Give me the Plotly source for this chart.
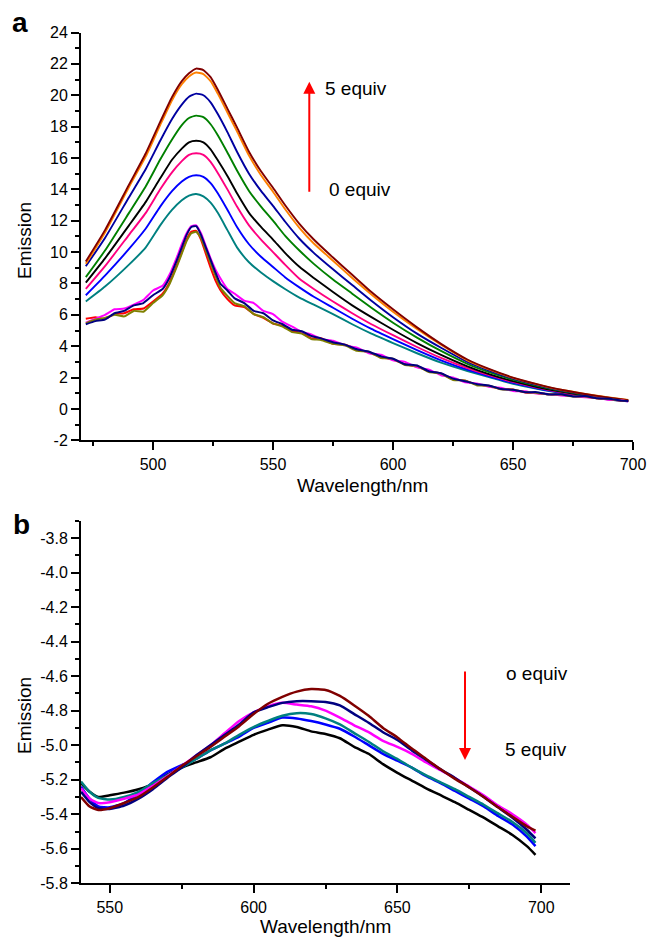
import plotly.graph_objects as go
import numpy as np

W, H = 649, 937

# ---------------- Panel a data ----------------
wl_a = [472, 480, 490, 497, 503, 508, 512, 515, 518, 521, 524, 527, 531, 535, 540, 545, 550, 555,
        561, 567, 575, 583, 591, 600, 610, 620, 631, 640, 650, 660, 670, 680, 690, 698]
a_brown = [9.4, 11.4, 14.3, 16.3, 18.3, 19.9, 20.9, 21.4, 21.7, 21.6, 21.15, 20.35, 19.15, 17.95, 16.4, 15.15, 14.1, 13.0,
           11.8, 10.8, 9.65, 8.55, 7.45, 6.35, 5.2, 4.15, 3.15, 2.55, 2.0, 1.58, 1.22, 0.95, 0.72, 0.55]
a_orange = [9.25, 11.25, 14.15, 16.1, 18.1, 19.7, 20.7, 21.2, 21.45, 21.35, 20.9, 20.1, 18.9, 17.7, 16.15, 14.9, 13.85, 12.75,
            11.55, 10.55, 9.45, 8.35, 7.3, 6.2, 5.1, 4.1, 3.1, 2.52, 1.98, 1.57, 1.22, 0.96, 0.73, 0.57]
a_navy = [9.1, 10.9, 13.5, 15.3, 17.1, 18.5, 19.4, 19.9, 20.1, 20.0, 19.55, 18.8, 17.65, 16.4, 15.0, 13.9, 12.95, 11.95,
          10.85, 9.95, 8.9, 7.9, 6.9, 5.85, 4.8, 3.9, 3.0, 2.45, 1.93, 1.52, 1.18, 0.93, 0.7, 0.53]
a_green = [8.4, 10.1, 12.5, 14.2, 15.9, 17.2, 18.1, 18.55, 18.7, 18.6, 18.15, 17.45, 16.35, 15.2, 13.9, 12.9, 12.0, 11.05,
           10.1, 9.25, 8.25, 7.35, 6.45, 5.5, 4.55, 3.7, 2.88, 2.35, 1.87, 1.47, 1.15, 0.9, 0.68, 0.52]
a_black = [8.05, 9.6, 11.7, 13.2, 14.7, 15.9, 16.6, 17.0, 17.1, 17.0, 16.55, 15.85, 14.85, 13.75, 12.5, 11.6, 10.8, 9.95,
           9.06, 8.35, 7.45, 6.6, 5.85, 5.05, 4.2, 3.45, 2.72, 2.22, 1.77, 1.4, 1.1, 0.86, 0.65, 0.5]
a_pink = [7.65, 9.1, 11.1, 12.5, 14.0, 15.1, 15.8, 16.2, 16.3, 16.2, 15.75, 15.05, 14.0, 12.9, 11.7, 10.8, 10.0, 9.2,
          8.3, 7.65, 6.85, 6.1, 5.4, 4.7, 3.95, 3.25, 2.6, 2.15, 1.72, 1.36, 1.07, 0.84, 0.64, 0.5]
a_blue = [7.25, 8.5, 10.2, 11.5, 12.9, 13.9, 14.5, 14.8, 14.9, 14.8, 14.4, 13.75, 12.7, 11.6, 10.5, 9.7, 9.05, 8.4,
          7.75, 7.15, 6.45, 5.75, 5.1, 4.45, 3.75, 3.1, 2.5, 2.08, 1.66, 1.32, 1.05, 0.82, 0.62, 0.5]
a_teal = [6.85, 7.8, 9.2, 10.3, 11.7, 12.7, 13.3, 13.6, 13.7, 13.55, 13.15, 12.5, 11.4, 10.3, 9.35, 8.7, 8.15, 7.65,
          7.1, 6.65, 6.05, 5.4, 4.8, 4.2, 3.55, 2.95, 2.42, 2.03, 1.6, 1.28, 1.02, 0.8, 0.6, 0.48]

wl_n = [472, 476, 480, 484, 488, 492, 496, 500, 504, 507, 510, 512, 514, 516, 518, 520, 522, 524, 526, 528,
        531, 534, 538, 542, 546, 550, 554, 558, 562, 566, 570, 575, 580, 585, 590, 595, 600, 605, 610, 615,
        620, 625, 630, 635, 640, 645, 650, 655, 660, 665, 670, 675, 680, 685, 690, 695, 698]
n_red = [5.75, 5.85, 5.75, 6.05, 6.1, 6.35, 6.4, 6.85, 7.35, 8.1, 9.2, 10.0, 10.8, 11.3, 11.35, 10.8, 9.9, 9.0, 8.2, 7.6,
         7.0, 6.6, 6.5, 6.05, 5.8, 5.45, 5.3, 4.95, 4.85, 4.5, 4.5, 4.15, 4.1, 3.8, 3.6, 3.3, 3.15, 2.85, 2.7, 2.4,
         2.25, 1.9, 1.8, 1.55, 1.45, 1.27, 1.24, 1.05, 1.02, 0.93, 0.9, 0.83, 0.78, 0.68, 0.62, 0.53, 0.5]
n_olive = [5.45, 5.7, 5.8, 6.0, 5.9, 6.25, 6.2, 6.75, 7.25, 8.0, 9.1, 9.9, 10.7, 11.2, 11.3, 10.9, 10.1, 9.3, 8.5, 7.75,
           7.2, 6.75, 6.55, 6.05, 5.85, 5.45, 5.25, 4.9, 4.8, 4.45, 4.4, 4.15, 4.05, 3.7, 3.65, 3.25, 3.2, 2.8, 2.75, 2.35,
           2.25, 1.85, 1.82, 1.5, 1.48, 1.25, 1.22, 1.08, 1.02, 0.93, 0.92, 0.8, 0.8, 0.68, 0.63, 0.54, 0.5]
n_magenta = [5.5, 5.75, 6.0, 6.35, 6.4, 6.65, 6.95, 7.55, 7.85, 8.6, 9.7, 10.5, 11.2, 11.65, 11.7, 11.2, 10.4, 9.6, 8.9, 8.35,
             7.65, 7.35, 6.9, 6.75, 6.25, 6.05, 5.55, 5.25, 4.9, 4.75, 4.45, 4.35, 4.05, 3.9, 3.55, 3.45, 3.1, 3.0, 2.65, 2.5,
             2.15, 2.0, 1.7, 1.63, 1.42, 1.35, 1.15, 1.12, 0.98, 0.95, 0.86, 0.82, 0.74, 0.7, 0.58, 0.56, 0.48]
n_navy = [5.4, 5.6, 5.7, 6.1, 6.25, 6.6, 6.75, 7.25, 7.65, 8.4, 9.5, 10.3, 11.1, 11.6, 11.65, 11.1, 10.3, 9.5, 8.7, 8.0,
          7.55, 7.05, 6.75, 6.25, 6.1, 5.65, 5.4, 5.05, 4.95, 4.65, 4.5, 4.25, 4.1, 3.8, 3.65, 3.35, 3.2, 2.85, 2.77, 2.4,
          2.27, 1.93, 1.77, 1.58, 1.5, 1.27, 1.23, 1.07, 1.07, 0.92, 0.94, 0.8, 0.82, 0.68, 0.65, 0.53, 0.5]

# ---------------- Panel b data ----------------
wl_b = [540, 543, 546, 550, 555, 560, 565, 570, 575, 580, 585, 590, 595, 600, 605, 610, 615, 620, 625, 630,
        635, 640, 645, 650, 655, 660, 665, 670, 675, 680, 685, 690, 695, 698]
b_black = [-5.22, -5.27, -5.30, -5.29, -5.275, -5.255, -5.225, -5.17, -5.13, -5.10, -5.07, -5.02, -4.98, -4.94, -4.91,
           -4.885, -4.895, -4.92, -4.935, -4.96, -5.01, -5.05, -5.11, -5.16, -5.205, -5.25, -5.29, -5.33, -5.375,
           -5.42, -5.47, -5.52, -5.585, -5.635]
b_blue = [-5.24, -5.31, -5.355, -5.36, -5.335, -5.28, -5.215, -5.155, -5.115, -5.08, -5.03, -4.99, -4.95, -4.90, -4.87,
          -4.84, -4.845, -4.86, -4.88, -4.905, -4.95, -5.00, -5.05, -5.09, -5.13, -5.18, -5.22, -5.265, -5.31,
          -5.355, -5.41, -5.46, -5.53, -5.585]
b_teal = [-5.21, -5.27, -5.305, -5.315, -5.30, -5.27, -5.22, -5.175, -5.13, -5.08, -5.03, -4.99, -4.94, -4.895, -4.86,
          -4.83, -4.815, -4.82, -4.845, -4.88, -4.93, -4.98, -5.035, -5.08, -5.13, -5.175, -5.215, -5.255, -5.30,
          -5.345, -5.395, -5.445, -5.51, -5.565]
b_magenta = [-5.25, -5.31, -5.335, -5.33, -5.31, -5.285, -5.235, -5.18, -5.12, -5.06, -5.00, -4.93, -4.86, -4.81, -4.775,
             -4.755, -4.765, -4.775, -4.80, -4.84, -4.885, -4.925, -4.975, -5.01, -5.05, -5.10, -5.145, -5.19, -5.24,
             -5.29, -5.35, -5.40, -5.46, -5.51]
b_navy = [-5.27, -5.33, -5.365, -5.37, -5.35, -5.31, -5.255, -5.19, -5.13, -5.06, -5.00, -4.94, -4.88, -4.81, -4.78,
          -4.755, -4.745, -4.745, -4.75, -4.77, -4.82, -4.87, -4.925, -4.97, -5.03, -5.085, -5.14, -5.19, -5.245,
          -5.30, -5.36, -5.42, -5.49, -5.54]
b_brown = [-5.30, -5.355, -5.375, -5.365, -5.335, -5.30, -5.245, -5.185, -5.12, -5.065, -5.01, -4.95, -4.89, -4.82,
           -4.76, -4.72, -4.69, -4.675, -4.68, -4.715, -4.77, -4.83, -4.90, -4.955, -5.02, -5.08, -5.14, -5.195,
           -5.245, -5.30, -5.36, -5.415, -5.47, -5.495]

# tick labels
xa_ticks = [500, 550, 600, 650, 700]
xa_text = ["500", "550", "600", "650", "700"]
ya_ticks = [-2, 0, 2, 4, 6, 8, 10, 12, 14, 16, 18, 20, 22, 24]
ya_text = ["-2", "0", "2", "4", "6", "8", "10", "12", "14", "16", "18", "20", "22", "24"]
xb_ticks = [550, 600, 650, 700]
xb_text = ["550", "600", "650", "700"]
yb_ticks = [-5.8, -5.6, -5.4, -5.2, -5.0, -4.8, -4.6, -4.4, -4.2, -4.0, -3.8]
yb_text = ["-5.8", "-5.6", "-5.4", "-5.2", "-5.0", "-4.8", "-4.6", "-4.4", "-4.2", "-4.0", "-3.8"]

FONT = "Liberation Sans, Arial, sans-serif"

fig = go.Figure()

broad = [(a_teal, "#008080"), (a_blue, "#0000FF"), (a_pink, "#FF0080"), (a_black, "#000000"),
         (a_green, "#008000"), (a_navy, "#0000A0"), (a_orange, "#FF8000"), (a_brown, "#800000")]
for ys, c in broad:
    fig.add_trace(go.Scatter(x=wl_a, y=ys, mode="lines", line=dict(color=c, width=1.9, shape="spline", smoothing=0.5),
                             xaxis="x", yaxis="y", hoverinfo="skip"))
noisy = [(n_red, "#FF0000"), (n_magenta, "#FF00FF"), (n_olive, "#808000"), (n_navy, "#000080")]
for ys, c in noisy:
    fig.add_trace(go.Scatter(x=wl_n, y=ys, mode="lines", line=dict(color=c, width=2, shape="spline", smoothing=0.4),
                             xaxis="x", yaxis="y", hoverinfo="skip"))

bcurves = [(b_black, "#000000"), (b_blue, "#0000FF"), (b_teal, "#008080"), (b_magenta, "#FF00FF"),
           (b_navy, "#000080"), (b_brown, "#800000")]
for ys, c in bcurves:
    fig.add_trace(go.Scatter(x=wl_b, y=ys, mode="lines", line=dict(color=c, width=2.5, shape="spline", smoothing=0.5),
                             xaxis="x2", yaxis="y2", hoverinfo="skip"))

def px_x(p):
    return p / W

def px_y(p):
    return 1 - p / H

axis_common = dict(showline=True, linecolor="black", linewidth=2, ticks="outside", ticklen=8, tickwidth=1.5,
                   tickcolor="black", showgrid=False, zeroline=False, mirror=False, automargin=False,
                   tickfont=dict(family=FONT, size=16, color="black"), tickmode="array")

minor_common = dict(ticks="outside", ticklen=4, tickwidth=1.5, tickcolor="black", showgrid=False, tickmode="array")

fig.update_layout(
    width=W, height=H, margin=dict(l=0, r=0, t=0, b=0, pad=0, autoexpand=False),
    paper_bgcolor="white", plot_bgcolor="white", showlegend=False,
    xaxis=dict(domain=[px_x(81), px_x(633)], range=[470, 700], anchor="y",
               tickvals=xa_ticks, ticktext=xa_text,
               minor=dict(tickvals=[475, 525, 575, 625, 675], **minor_common), **axis_common),
    yaxis=dict(domain=[px_y(440.3), px_y(32.5)], range=[-2, 24], anchor="x",
               tickvals=ya_ticks, ticktext=ya_text,
               minor=dict(tickvals=list(range(-1, 24, 2)), **minor_common), **axis_common),
    xaxis2=dict(domain=[px_x(81), px_x(570)], range=[540, 710], anchor="y2",
                tickvals=xb_ticks, ticktext=xb_text,
                minor=dict(tickvals=[575, 625, 675], **minor_common), **axis_common),
    yaxis2=dict(domain=[px_y(883.3), px_y(520.7)], range=[-5.8, -3.7], anchor="x2",
                tickvals=yb_ticks, ticktext=yb_text,
                minor=dict(tickvals=[round(v, 1) for v in np.arange(-5.7, -3.65, 0.2)], **minor_common),
                **axis_common),
)

ann = []
def text(x, y, s, size, xanchor="center", yanchor="middle", bold=False, angle=0):
    ann.append(dict(x=px_x(x), y=px_y(y), xref="paper", yref="paper", text=("<b>%s</b>" % s) if bold else s,
                    showarrow=False, xanchor=xanchor, yanchor=yanchor, textangle=angle,
                    font=dict(family=FONT, size=size, color="black")))

text(20, 22, "a", 28, bold=True)
text(21, 524, "b", 28, bold=True)
text(24, 241, "Emission", 19, angle=-90)
text(24, 716, "Emission", 19, angle=-90)
text(362, 486, "Wavelength/nm", 19)
text(325, 926, "Wavelength/nm", 19)
text(323, 88, "5 equiv", 19, xanchor="left")
text(327, 190, "0 equiv", 19, xanchor="left")
text(504, 673, "o equiv", 19, xanchor="left")
text(503, 749, "5 equiv", 19, xanchor="left")

# arrows
ann.append(dict(x=px_x(309.3), y=px_y(81.7), xref="paper", yref="paper", ax=0, ay=111.6, axref="pixel",
                ayref="pixel", text="", showarrow=True, arrowhead=2, arrowsize=1.2, arrowwidth=2,
                arrowcolor="#FF0000"))
ann.append(dict(x=px_x(465), y=px_y(760), xref="paper", yref="paper", ax=0, ay=-90, axref="pixel",
                ayref="pixel", text="", showarrow=True, arrowhead=2, arrowsize=1.2, arrowwidth=2,
                arrowcolor="#FF0000"))
fig.update_layout(annotations=ann)

fig.write_html("out.html", config={"displayModeBar": False},
               post_script="document.body.style.margin='0px';document.body.style.padding='0px';"
                           "document.body.style.overflow='hidden';")
